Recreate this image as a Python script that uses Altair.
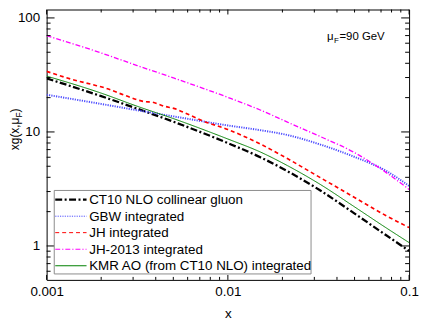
import altair as alt
import pandas as pd

# ---------------- data ----------------
labels = [
    "CT10 NLO collinear gluon",
    "GBW integrated",
    "JH integrated",
    "JH-2013 integrated",
    "KMR AO (from CT10 NLO) integrated",
]
colors = ["#000000", "#4d4dff", "#ff0000", "#ff00ff", "#008000"]
dashes = [[7, 2.5, 2, 2.5], [1.2, 1.2], [4, 3], [5, 2, 1.2, 2], [1, 0]]
widths = [2.3, 1, 1, 1.1, 1.1]

x_common = [0.001, 0.002, 0.00316, 0.005, 0.01, 0.0152, 0.0213, 0.0324, 0.0492, 0.0748, 0.1]
ct10 = [29.5, 20.6, 16.0, 12.3, 7.98, 5.97, 4.53, 3.06, 1.96, 1.24, 0.906]
gbw = [21.2, 17.6, 15.5, 13.7, 11.4, 10.35, 9.4, 7.75, 6.1, 4.55, 3.36]
jh2013 = [69.8, 49.3, 38.2, 29.8, 20.1, 15.5, 12.2, 9.1, 6.68, 4.4, 3.13]
kmr = [30.9, 21.9, 16.8, 13.1, 8.67, 6.64, 5.07, 3.46, 2.24, 1.44, 1.07]

x_jh = [0.001, 0.00137, 0.00179, 0.00212, 0.00273, 0.00344, 0.00385, 0.00436,
        0.00521, 0.00585, 0.00718, 0.01, 0.0152, 0.0213, 0.0324, 0.0492, 0.0748, 0.1]
jh = [34.0, 29.0, 26.0, 24.2, 20.8, 18.5, 18.2, 17.0,
      15.8, 14.6, 12.6, 10.5, 7.79, 5.84, 3.97, 2.70, 1.84, 1.45]

x_major = [0.001, 0.01, 0.1]
x_minor = [0.002, 0.003, 0.004, 0.005, 0.006, 0.007, 0.008, 0.009,
           0.02, 0.03, 0.04, 0.05, 0.06, 0.07, 0.08, 0.09]
y_major = [1, 10, 100]
y_minor = [0.6, 0.7, 0.8, 0.9, 2, 3, 4, 5, 6, 7, 8, 9,
           20, 30, 40, 50, 60, 70, 80, 90]

x_domain = [0.001, 0.1]
y_domain = [0.504, 118.5]

# ---------------- build tables ----------------
rows = []
for name, ys in [(labels[0], ct10), (labels[1], gbw), (labels[3], jh2013), (labels[4], kmr)]:
    for xv, yv in zip(x_common, ys):
        rows.append({"x": xv, "y": yv, "series": name})
for xv, yv in zip(x_jh, jh):
    rows.append({"x": xv, "y": yv, "series": labels[2]})
df = pd.DataFrame(rows)

W, H = 366, 273
FONT = "Liberation Sans"

xscale = alt.Scale(type="log", domain=x_domain, nice=False)
yscale = alt.Scale(type="log", domain=y_domain, nice=False)
common_axis = dict(grid=False, domain=False, ticks=False, tickSize=0, labelFlush=False,
                   labelFont=FONT, labelFontSize=13.5, labelColor="black", format="~g")
xaxis = alt.Axis(values=x_major, title="x", titlePadding=8,
                 titleFont=FONT, titleFontSize=13.5, titleFontWeight="normal",
                 titleColor="black", labelPadding=5, **common_axis)
yaxis = alt.Axis(values=y_major, title=None, labelPadding=7, **common_axis)

lines = alt.Chart(df).mark_line(clip=True, interpolate="monotone").encode(
    x=alt.X("x:Q", scale=xscale, axis=xaxis),
    y=alt.Y("y:Q", scale=yscale, axis=yaxis),
    color=alt.Color("series:N", scale=alt.Scale(domain=labels, range=colors), legend=None),
    strokeDash=alt.StrokeDash("series:N", scale=alt.Scale(domain=labels, range=dashes), legend=None),
    strokeWidth=alt.StrokeWidth("series:N", scale=alt.Scale(domain=labels, range=widths), legend=None),
)


def xticks(vals, length):
    d = pd.DataFrame({"x": vals})
    base = alt.Chart(d).mark_rule(color="black", strokeWidth=1)
    bot = base.encode(x=alt.X("x:Q", scale=xscale, axis=xaxis),
                      y=alt.value(H), y2=alt.value(H - length))
    top = base.encode(x=alt.X("x:Q", scale=xscale, axis=xaxis),
                      y=alt.value(0), y2=alt.value(length))
    return [bot, top]


def yticks(vals, length):
    d = pd.DataFrame({"y": vals})
    base = alt.Chart(d).mark_rule(color="black", strokeWidth=1)
    left = base.encode(y=alt.Y("y:Q", scale=yscale, axis=yaxis),
                       x=alt.value(0), x2=alt.value(length))
    right = base.encode(y=alt.Y("y:Q", scale=yscale, axis=yaxis),
                        x=alt.value(W), x2=alt.value(W - length))
    return [left, right]


tick_layers = xticks(x_major, 5) + xticks(x_minor, 3) + yticks(y_major, 8) + yticks(y_minor, 4)


def txt(s, x, y, size, angle=0, align="left", baseline="alphabetic"):
    d = pd.DataFrame({"t": [s]})
    return alt.Chart(d).mark_text(font=FONT, fontSize=size, align=align, baseline=baseline,
                                  angle=angle, color="black").encode(
        text="t:N", x=alt.value(x), y=alt.value(y))


annot = [
    txt("\u03bc", 283, 31, 11.5),
    txt("F", 290.2, 34, 8),
    txt("=90 GeV", 295.7, 31, 11.5),
    txt("xg(x,\u03bc", -27.8, 142, 12, angle=270),
    txt("F", -24.8, 109.1, 8.5, angle=270),
    txt(")", -27.8, 103.9, 12, angle=270),
]

# ---------------- legend (drawn as a box with sample lines and labels) ----------------
box = alt.Chart(pd.DataFrame({"k": [0]})).mark_rect(
    fill="white", stroke="#8c8c8c", strokeWidth=1).encode(
    x=alt.value(7.7), x2=alt.value(267), y=alt.value(182.7), y2=alt.value(267))

leg_layers = [box]
row_y = [192, 208.7, 225.3, 242, 258.7]
for i, name in enumerate(labels):
    seg = alt.Chart(pd.DataFrame({"k": [name]})).mark_rule(
        color=colors[i], strokeDash=dashes[i], strokeWidth=widths[i]).encode(
        x=alt.value(8.7), x2=alt.value(40.3), y=alt.value(row_y[i]))
    leg_layers.append(seg)
    leg_layers.append(txt(name, 43, row_y[i] + 4.8, 13.5))

chart = alt.layer(lines, *tick_layers, *leg_layers, *annot).properties(
    width=W, height=H, background="white",
    autosize=alt.AutoSizeParams(type="none"),
    padding={"left": 39, "top": 0, "right": 10, "bottom": 42},
).configure_view(stroke="black", strokeWidth=1).configure_axis(
    grid=False, domain=False, ticks=False,
    labelFont=FONT, labelFontSize=13.5, labelColor="black",
)

chart.save("out.html", embed_options={"renderer": "svg", "actions": False})
